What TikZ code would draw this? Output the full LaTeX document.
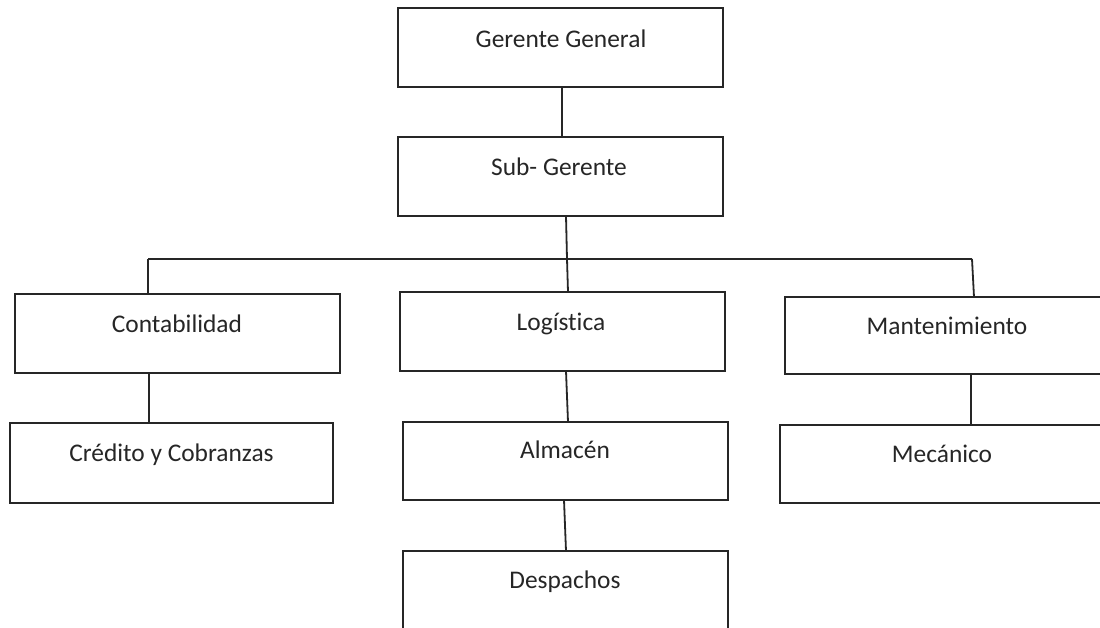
\documentclass[tikz,border=0pt]{standalone}
\usepackage{fontspec}
\setmainfont[Ligatures=NoCommon]{Carlito}
\begin{document}
\begin{tikzpicture}[x=1pt,y=-1pt,
  box/.style={draw=black!85, line width=1.8pt, rectangle, inner sep=0pt, outer sep=0pt, fill=white},
  lbl/.style={anchor=base, inner sep=0pt, text=black!85, font=\fontsize{25.4}{30}\selectfont},
  conn/.style={draw=black!85, line width=1.8pt}]
\useasboundingbox (0,0) rectangle (1100,627);
\clip (0,0) rectangle (1100,627);
% boxes
\node[box, minimum width=325, minimum height=79] (gg) at (560.5,47.5) {};
\node[box, minimum width=325, minimum height=79] (sg) at (560.5,176.5) {};
\node[box, minimum width=325, minimum height=79] (cont) at (177.5,333.5) {};
\node[box, minimum width=325, minimum height=79] (log) at (562.5,331.5) {};
\node[box, minimum width=325, minimum height=77] (mant) at (947.5,335.5) {};
\node[box, minimum width=323, minimum height=80] (cred) at (171.5,463) {};
\node[box, minimum width=325, minimum height=78] (alm) at (565.5,461) {};
\node[box, minimum width=325, minimum height=78] (mec) at (942.5,464) {};
\node[box, minimum width=325, minimum height=79] (desp) at (565.5,590.5) {};
% labels
\node[lbl] (ggt) at (561,47) {Gerente General};
\node[lbl] (sgt) at (559,175) {Sub- Gerente};
\node[lbl] (contt) at (177,332) {Contabilidad};
\node[lbl] (logt) at (561,330) {Logística};
\node[lbl] (mantt) at (947,334) {Mantenimiento};
\node[lbl] (credt) at (171.5,461) {Crédito y Cobranzas};
\node[lbl] (almt) at (565,458) {Almacén};
\node[lbl] (mect) at (942,462) {Mecánico};
\node[lbl] (despt) at (565,588) {Despachos};
% bus coordinates
\coordinate (busL) at (148,259);
\coordinate (busM) at (567,259);
\coordinate (busR) at (972,259);
% connectors
\draw[conn] (gg.south -| 562,0) -- (sg.north -| 562,0);
\draw[conn] (sg.south -| 566,0) -- (busM);
\draw[conn] (busL) -- (busR);
\draw[conn] (busL) -- (cont.north -| busL);
\draw[conn] (busM) -- (log.north -| 568,0);
\draw[conn] (busR) -- (mant.north -| 974,0);
\draw[conn] (cont.south -| 149,0) -- (cred.north -| 149,0);
\draw[conn] (log.south -| 566,0) -- (alm.north -| 568,0);
\draw[conn] (mant.south -| 971,0) -- (mec.north -| 971,0);
\draw[conn] (alm.south -| 564,0) -- (desp.north -| 566,0);
\end{tikzpicture}
\end{document}
